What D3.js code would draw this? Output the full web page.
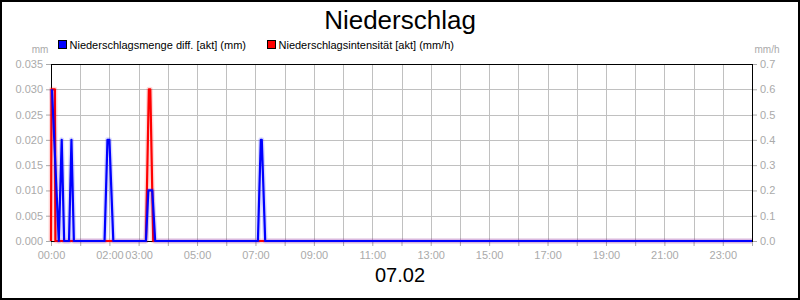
<!DOCTYPE html>
<html>
<head>
<meta charset="utf-8">
<script src="https://cdn.jsdelivr.net/npm/d3@7"></script>
<style>
  body { margin: 0; background: #fff; }
  svg { display: block; font-family: "Liberation Sans", Arial, sans-serif; }
</style>
</head>
<body>
<div class="svg-container"></div>
<script>
// data (times as HH:MM on 07.02)
const mengeTimes = ["00:02", "00:16", "00:22", "00:27", "00:37", "00:42", "00:47",
  "01:50", "01:56", "02:00", "02:08", "03:15", "03:20", "03:28", "03:34",
  "07:05", "07:11", "07:13", "07:20", "24:00"];
const mengeValues = [0.03, 0, 0.02, 0, 0, 0.02, 0,
  0, 0.02, 0.02, 0, 0, 0.01, 0.01, 0,
  0, 0.02, 0.02, 0, 0];
const intensTimes = ["00:00", "00:01", "00:08", "00:09", "03:15", "03:21", "03:24", "03:30", "24:00"];
const intensValues = [0, 0.6, 0.6, 0, 0, 0.6, 0.6, 0, 0];

const leftTicks = [0, 0.005, 0.01, 0.015, 0.02, 0.025, 0.03, 0.035];
const rightTicks = [0, 0.1, 0.2, 0.3, 0.4, 0.5, 0.6, 0.7];
const hourLabels = ["00:00", "02:00", "03:00", "05:00", "07:00", "09:00", "11:00",
  "13:00", "15:00", "17:00", "19:00", "21:00", "23:00"];

const title = "Niederschlag";
const dayLabel = "07.02";
const legendTitles = ["Niederschlagsmenge diff. [akt] (mm)", "Niederschlagsintensität [akt] (mm/h)"];
const legendColours = ["#0000ff", "#ff0000"];

const width = 800, height = 300;
const plot = { left: 51, right: 752, top: 64, bottom: 241 };

const toMin = s => { const p = s.split(":"); return +p[0] * 60 + +p[1]; };
const crisp = v => Math.round(v) + 0.5;

const xScale = d3.scaleLinear().domain([0, 1440]).range([plot.left, plot.right]);
const yLeft = d3.scaleLinear().domain([0, 0.035]).range([plot.bottom, plot.top]);
const yRight = d3.scaleLinear().domain([0, 0.7]).range([plot.bottom, plot.top]);

const svg = d3.select(".svg-container")
  .append("svg")
  .attr("width", width)
  .attr("height", height);

svg.append("rect")
  .attr("x", 1).attr("y", 1)
  .attr("width", width - 2).attr("height", height - 2)
  .attr("fill", "#fff")
  .attr("stroke", "#000")
  .attr("stroke-width", 2);

// title
svg.append("text")
  .attr("x", 400).attr("y", 29)
  .attr("text-anchor", "middle")
  .style("font-size", "26px")
  .text(title);

// grid
const hours = d3.range(1, 24);
svg.append("g").selectAll("line")
  .data(hours)
  .enter().append("line")
  .attr("x1", d => crisp(xScale(d * 60))).attr("x2", d => crisp(xScale(d * 60)))
  .attr("y1", plot.top).attr("y2", plot.bottom)
  .attr("stroke", "#c0c0c0");

svg.append("g").selectAll("line")
  .data(leftTicks.slice(1, -1))
  .enter().append("line")
  .attr("x1", plot.left).attr("x2", plot.right)
  .attr("y1", d => crisp(yLeft(d))).attr("y2", d => crisp(yLeft(d)))
  .attr("stroke", "#c0c0c0");

// axes
const xAxis = d3.axisBottom(xScale)
  .tickValues(d3.range(0, 25).map(h => h * 60))
  .tickSize(5)
  .tickFormat(d => {
    const lab = d3.format("02")(d / 60) + ":00";
    return hourLabels.includes(lab) ? lab : "";
  });
const leftAxis = d3.axisLeft(yLeft).tickValues(leftTicks).tickSize(5).tickFormat(d3.format(".3f"));
const rightAxis = d3.axisRight(yRight).tickValues(rightTicks).tickSize(5).tickFormat(d3.format(".1f"));

function styleAxis(g) {
  g.select(".domain").remove();
  g.selectAll(".tick line").attr("stroke", "#aaa");
  g.selectAll(".tick text").attr("fill", "#aaa").style("font-size", "11px");
}

svg.append("g")
  .attr("transform", "translate(0," + plot.bottom + ")")
  .call(xAxis).call(styleAxis)
  .selectAll(".tick text").attr("dy", "0.95em");

svg.append("g")
  .attr("transform", "translate(" + plot.left + ",0)")
  .call(leftAxis).call(styleAxis)
  .selectAll(".tick text").attr("x", -8);

svg.append("g")
  .attr("transform", "translate(" + plot.right + ",0)")
  .call(rightAxis).call(styleAxis)
  .selectAll(".tick text").attr("x", 8);

svg.append("text").attr("x", 40).attr("y", 53)
  .attr("text-anchor", "middle").attr("fill", "#aaa").style("font-size", "10px").text("mm");
svg.append("text").attr("x", 767).attr("y", 53)
  .attr("text-anchor", "middle").attr("fill", "#aaa").style("font-size", "10px").text("mm/h");

// frame
svg.append("rect")
  .attr("x", plot.left + 0.5).attr("y", plot.top + 0.5)
  .attr("width", plot.right - plot.left).attr("height", plot.bottom - plot.top)
  .attr("fill", "none").attr("stroke", "#000");

// series
const intensData = intensTimes.map((t, i) => [toMin(t), intensValues[i]]);
const mengeData = mengeTimes.map((t, i) => [toMin(t), mengeValues[i]]);

const lineRight = d3.line().x(d => xScale(d[0])).y(d => yRight(d[1]));
const lineLeft = d3.line().x(d => xScale(d[0])).y(d => yLeft(d[1]));

function drawSeries(data, line, colour) {
  svg.append("path").datum(data)
    .attr("d", line).attr("fill", "none")
    .attr("stroke", colour).attr("stroke-opacity", 0.15)
    .attr("stroke-width", 5).attr("stroke-linejoin", "round");
  svg.append("path").datum(data)
    .attr("d", line).attr("fill", "none")
    .attr("stroke", colour).attr("stroke-width", 2.2)
    .attr("stroke-linejoin", "round");
}
drawSeries(intensData, lineRight, legendColours[1]);
drawSeries(mengeData, lineLeft, legendColours[0]);

// legend
const legendX = [58.5, 267.5];
const legend = svg.append("g").attr("id", "legend");
legend.selectAll("rect")
  .data(legendColours)
  .enter().append("rect")
  .attr("x", (d, i) => legendX[i]).attr("y", 40.5)
  .attr("width", 8).attr("height", 8)
  .attr("stroke", "#000")
  .attr("fill", d => d);
legend.selectAll("text")
  .data(legendTitles)
  .enter().append("text")
  .attr("x", (d, i) => legendX[i] + 11).attr("y", 49)
  .style("font-size", "11px")
  .text(d => d);

// day label
svg.append("text")
  .attr("x", 400).attr("y", 282)
  .attr("text-anchor", "middle")
  .style("font-size", "20px")
  .text(dayLabel);
</script>
</body>
</html>
